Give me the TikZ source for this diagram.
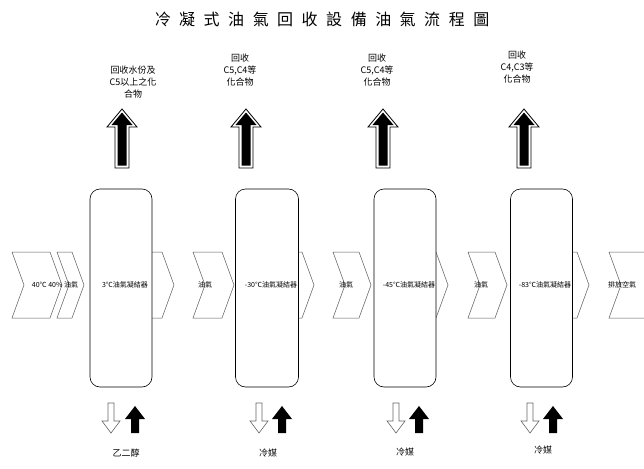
\documentclass[tikz,border=0pt]{standalone}
\usepackage{fontspec}
\setmainfont{Noto Sans CJK TC}
\newcommand{\tsp}{\hspace{8.5pt}}
\tikzset{
  x=1pt, y=-1pt,
  chev/.style={draw=black!65, line width=0.5pt, fill=white},
  cbox/.style={draw=black, line width=0.6pt, fill=white, rounded corners=10pt},
  toplbl/.style={font=\fontsize{9}{12}\selectfont, align=center, inner sep=0pt},
  boxtxt/.style={font=\fontsize{7}{8}\selectfont, inner sep=0pt},
  chtxt/.style={font=\fontsize{7}{8}\selectfont, inner sep=0pt},
  botlbl/.style={font=\fontsize{9}{10}\selectfont, inner sep=0pt},
}
\newcommand{\chevron}[2]{%
  \draw[chev] (#1,252) -- ({#2-12},252) -- (#2,285) -- ({#2-12},318) -- (#1,318) -- ({#1+12},285) -- cycle;}
\newcommand{\bigup}[1]{%
  \draw[black, line width=0.8pt, fill=white] ({#1-7},168) -- ({#1-7},127) -- ({#1-15},127) -- (#1,109) -- ({#1+15},127) -- ({#1+7},127) -- ({#1+7},168) -- cycle;
  \fill[black] ({#1-4.5},165.5) -- ({#1-4.5},125) -- ({#1-10.5},125) -- (#1,112.5) -- ({#1+10.5},125) -- ({#1+4.5},125) -- ({#1+4.5},165.5) -- cycle;}
\newcommand{\hollowdown}[1]{%
  \draw[black!60, line width=0.6pt, fill=white] ({#1-3},403) -- ({#1+3},403) -- ({#1+3},421) -- ({#1+9},421) -- (#1,433) -- ({#1-9},421) -- ({#1-3},421) -- cycle;}
\newcommand{\blackup}[1]{%
  \fill[black] ({#1-4},433) -- ({#1-4},419) -- ({#1-10},419) -- (#1,406) -- ({#1+10},419) -- ({#1+4},419) -- ({#1+4},433) -- cycle;}
\begin{document}
\begin{tikzpicture}
\useasboundingbox (0,0) rectangle (644,468);
\clip (0,0) rectangle (644,468);
\fill[white] (0,0) rectangle (644,468);

% title
\node[font=\fontsize{16}{18}\selectfont, inner sep=0pt] (title) at (322,19)
  {冷\tsp 凝\tsp 式\tsp 油\tsp 氣\tsp 回\tsp 收\tsp 設\tsp 備\tsp 油\tsp 氣\tsp 流\tsp 程\tsp 圖};

% chevrons (flow)
\chevron{12}{62}
\chevron{57}{84}
\chevron{135}{174}
\chevron{193}{234}
\chevron{280}{314}
\chevron{333}{371}
\chevron{418}{448}
\chevron{468}{507}
\chevron{555}{589}
\chevron{609}{664}

% condenser boxes
\node[cbox, minimum width=62pt, minimum height=198pt] (b1) at (121,288) {};
\node[cbox, minimum width=63pt, minimum height=198pt] (b2) at (267,288) {};
\node[cbox, minimum width=62pt, minimum height=198pt] (b3) at (405,288) {};
\node[cbox, minimum width=62pt, minimum height=198pt] (b4) at (541.5,288) {};

\node[boxtxt] (t1) at (125,285) {3℃油氣凝結器};
\node[boxtxt] (t2) at (271,285) {-30℃油氣凝結器};
\node[boxtxt] (t3) at (409,285) {-45℃油氣凝結器};
\node[boxtxt] (t4) at (545,285) {-83℃油氣凝結器};

% chevron texts
\node[chtxt] (c0) at (55,285) {40℃\ 40\%\ 油氣};
\node[chtxt] (c1) at (205,285) {油氣};
\node[chtxt] (c2) at (346,285) {油氣};
\node[chtxt] (c3) at (481,285) {油氣};
\node[chtxt] (c4) at (622,285) {排放空氣};

% top recovered outputs
\bigup{122}
\bigup{246}
\bigup{383}
\bigup{524}
\node[toplbl] (l1) at (133,82) {回收水份及\\C5以上之化\\合物};
\node[toplbl] (l2) at (240,70) {回收\\C5,C4等\\化合物};
\node[toplbl] (l3) at (377,70) {回收\\C5,C4等\\化合物};
\node[toplbl] (l4) at (517,67) {回收\\C4,C3等\\化合物};

% bottom coolant arrows
\hollowdown{111}\blackup{135}
\hollowdown{259}\blackup{282}
\hollowdown{396}\blackup{419}
\hollowdown{530}\blackup{553}
\node[botlbl] (d1) at (126,453) {乙二醇};
\node[botlbl] (d2) at (268,453) {冷媒};
\node[botlbl] (d3) at (405,452) {冷媒};
\node[botlbl] (d4) at (543,450) {冷媒};
\end{tikzpicture}
\end{document}
